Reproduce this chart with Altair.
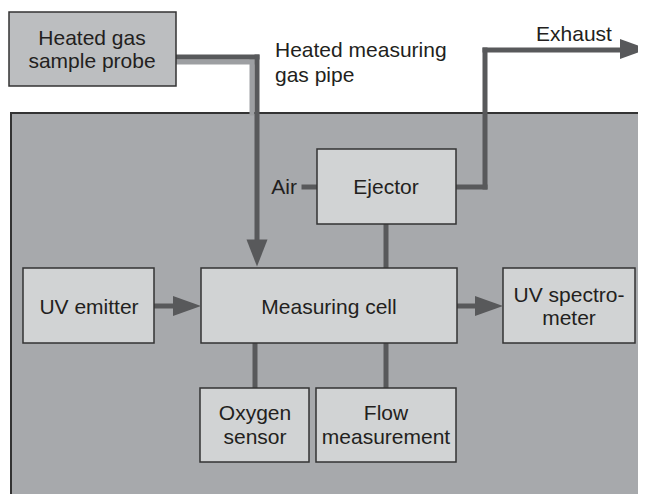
import altair as alt
import pandas as pd

# ---- diagram data (pixel-like coordinates of the reference layout) ----
box_names = ["probe", "ejector", "cell", "emitter", "spectrometer", "oxygen", "flow"]
box_x1 = [9, 317, 201, 23, 503, 200, 316]
box_x2 = [176, 456, 457, 154, 635, 309, 456]
box_y1 = [12, 149, 268, 268, 268, 388, 388]
box_y2 = [86, 224, 343, 343, 343, 462, 462]
box_fill = ["#bcbec0", "#d1d3d4", "#d1d3d4", "#d1d3d4", "#d1d3d4", "#d1d3d4", "#d1d3d4"]

# enclosure (open to the right and bottom)
encl_x1, encl_x2, encl_y1, encl_y2 = [11], [700], [113], [600]
border_x1 = [11, 11]
border_y1 = [113, 113]
border_x2 = [700, 11]
border_y2 = [113, 600]

# dark connector segments
seg_x1 = [176, 257, 304, 456, 485, 485, 386, 154, 457, 255, 386]
seg_y1 = [57, 57, 187, 187, 187, 50, 224, 306, 306, 343, 343]
seg_x2 = [257, 257, 317, 485, 485, 625, 386, 176, 478, 255, 386]
seg_y2 = [57, 245, 187, 187, 50, 50, 268, 306, 306, 388, 388]

# light (outer) band of the heated pipe
pipe_x1 = [176, 252]
pipe_y1 = [62, 62]
pipe_x2 = [252, 252]
pipe_y2 = [62, 113]

# arrow heads
right_x = [187, 489, 634]
right_y = [306, 306, 49]
down_x = [257]
down_y = [253]

# text lines (one row per line; y = baseline)
text_lines = ["Heated gas", "sample probe", "Ejector", "Measuring cell", "UV emitter",
              "UV spectro-", "meter", "Oxygen", "sensor", "Flow", "measurement",
              "Heated measuring", "gas pipe", "Exhaust", "Air"]
text_x = [92, 92, 386, 329, 89, 569, 569, 255, 255, 386, 386, 275, 275, 574, 297]
text_y = [45, 68, 194, 314, 314, 302, 325, 420, 444, 420, 444, 57, 82, 41, 194]
text_align = ["center"] * 11 + ["left", "left", "center", "right"]

XD = [8, 638]
YD = [8, 494]
FONT = "Liberation Sans"
DARK = "#58595b"


def X(f):
    return alt.X(f, type="quantitative", scale=alt.Scale(domain=XD, nice=False, zero=False), axis=None)


def Y(f):
    return alt.Y(f, type="quantitative", scale=alt.Scale(domain=YD, nice=False, zero=False, reverse=True), axis=None)


enc = pd.DataFrame({"x1": encl_x1, "x2": encl_x2, "y1": encl_y1, "y2": encl_y2})
enclosure = alt.Chart(enc).mark_rect(clip=True, fill="#a7a9ac").encode(
    x=X("x1"), x2="x2", y=Y("y1"), y2="y2")

bd = pd.DataFrame({"x1": border_x1, "y1": border_y1, "x2": border_x2, "y2": border_y2})
border = alt.Chart(bd).mark_rule(clip=True, color="#333333", strokeWidth=2, strokeCap="square").encode(
    x=X("x1"), y=Y("y1"), x2="x2", y2="y2")

pipe = pd.DataFrame({"x1": pipe_x1, "y1": pipe_y1, "x2": pipe_x2, "y2": pipe_y2})
pipe_light = alt.Chart(pipe).mark_rule(color="#9d9fa2", strokeWidth=5, strokeCap="square").encode(
    x=X("x1"), y=Y("y1"), x2="x2", y2="y2")

seg = pd.DataFrame({"x1": seg_x1, "y1": seg_y1, "x2": seg_x2, "y2": seg_y2})
segments = alt.Chart(seg).mark_rule(color=DARK, strokeWidth=5, strokeCap="square").encode(
    x=X("x1"), y=Y("y1"), x2="x2", y2="y2")

bx = pd.DataFrame({"name": box_names, "x1": box_x1, "x2": box_x2, "y1": box_y1, "y2": box_y2,
                   "fill": box_fill})
boxes = alt.Chart(bx).mark_rect(stroke="#333333", strokeWidth=1.5).encode(
    x=X("x1"), x2="x2", y=Y("y1"), y2="y2", fill=alt.Fill("fill:N", scale=None))

ra = pd.DataFrame({"x": right_x, "y": right_y})
right_heads = alt.Chart(ra).mark_point(shape="M -1 -0.72 L 1 0 L -1 0.72 Z", size=784, filled=True,
                                       color=DARK, opacity=1).encode(x=X("x"), y=Y("y"))
da = pd.DataFrame({"x": down_x, "y": down_y})
down_heads = alt.Chart(da).mark_point(shape="M -0.78 -1 L 0.78 -1 L 0 1 Z", size=729, filled=True,
                                      color=DARK, opacity=1).encode(x=X("x"), y=Y("y"))

tx = pd.DataFrame({"t": text_lines, "x": text_x, "y": text_y, "a": text_align})
texts = []
for al in ["left", "center", "right"]:
    texts.append(alt.Chart(tx[tx.a == al]).mark_text(font=FONT, fontSize=21, color="#231f20",
                                                    baseline="alphabetic", align=al).encode(
        x=X("x"), y=Y("y"), text="t:N"))

chart = alt.layer(enclosure, border, pipe_light, segments, boxes, right_heads, down_heads, *texts).properties(
    width=630, height=486, padding=0, autosize=alt.AutoSizeParams(type="none")
).configure_view(stroke=None)

chart.save("out.html", embed_options={"renderer": "svg", "actions": False})
